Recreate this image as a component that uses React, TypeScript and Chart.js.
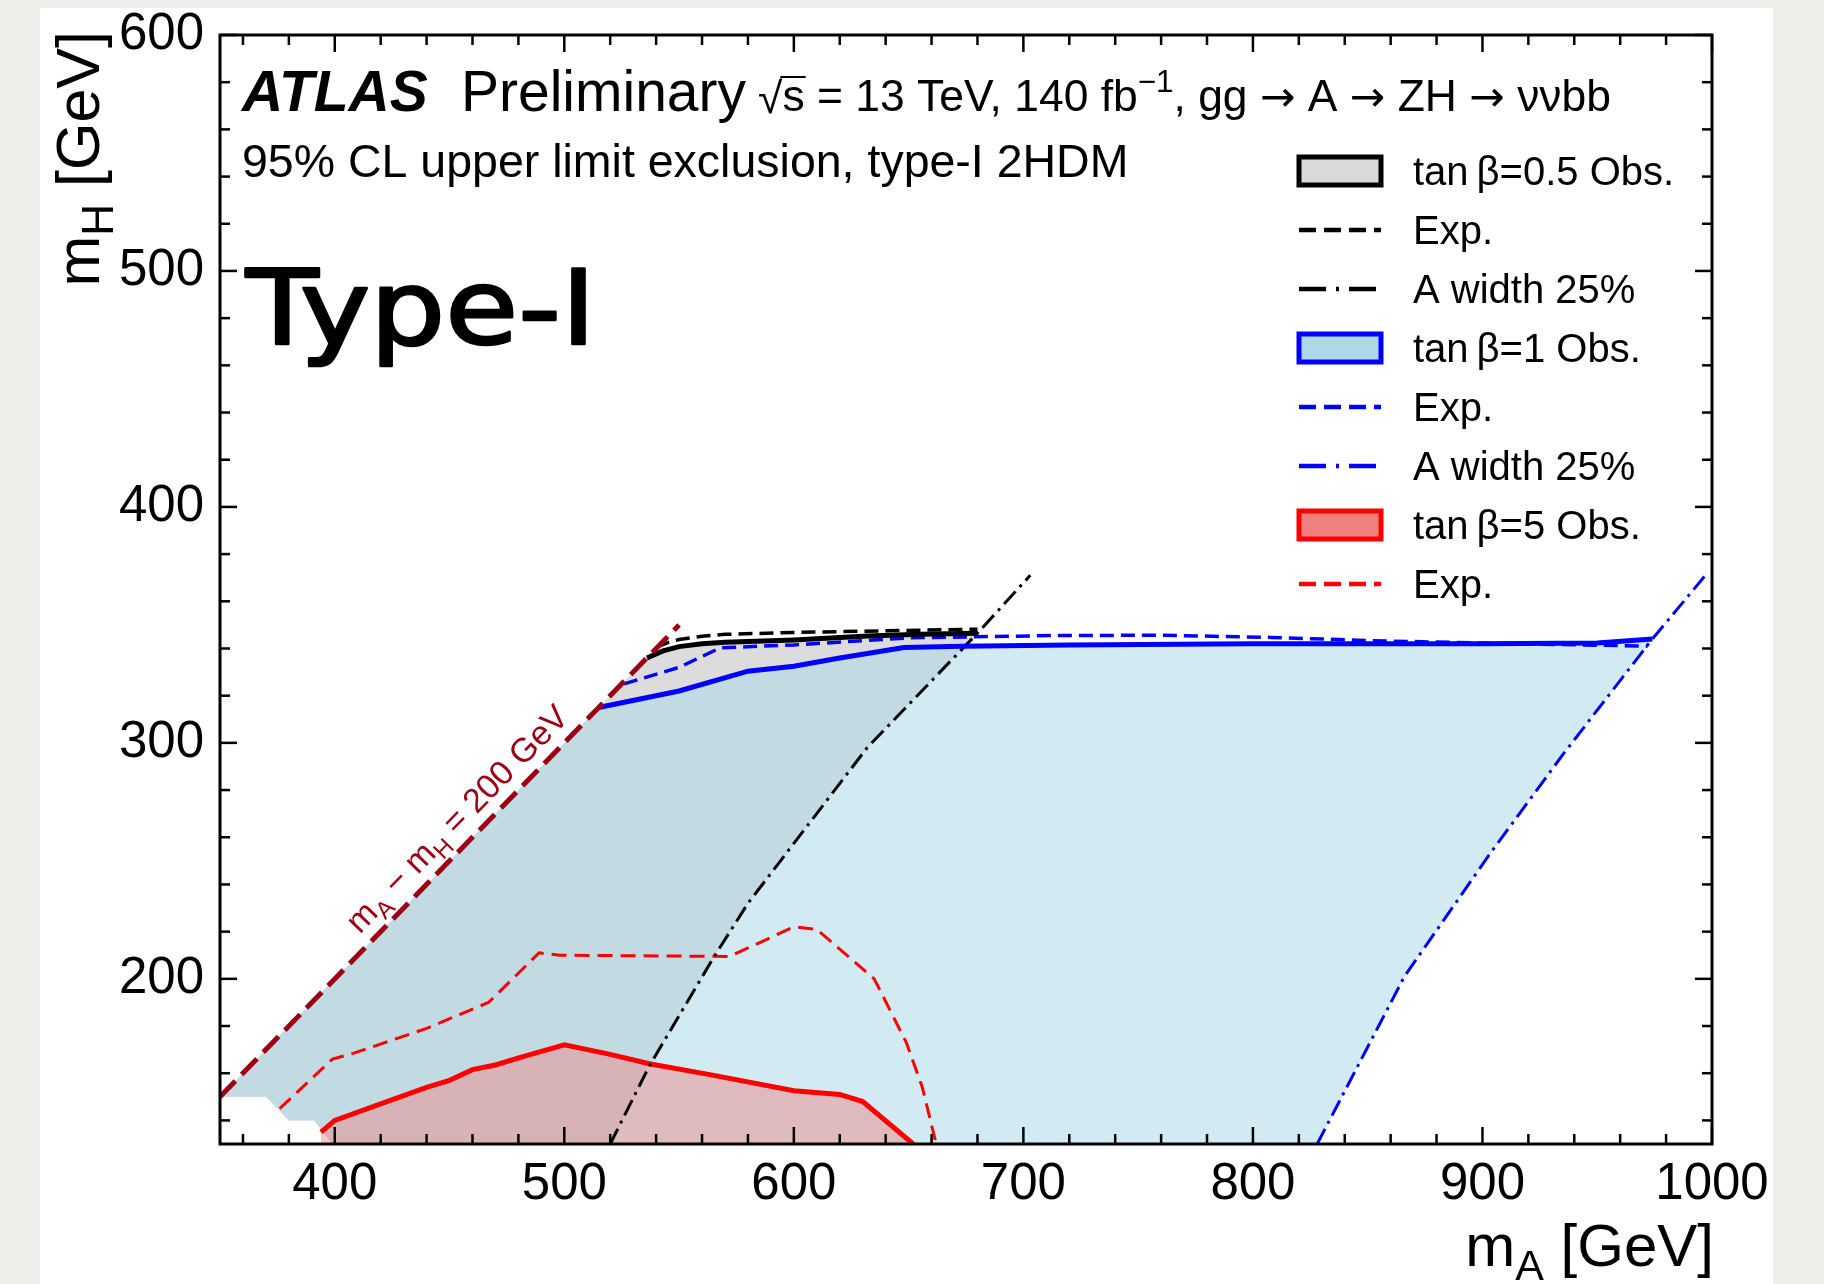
import React, { useEffect, useRef } from 'react';
import { Chart, registerables } from 'chart.js';

Chart.register(...registerables);

const FONT = '"Liberation Sans", Arial, Helvetica, sans-serif';
const SYMFONT = '"DejaVu Sans", "Liberation Sans", sans-serif';

// ---------------- axis definition ----------------
const xRange = [350, 1000];
const yRange = [130, 600];
const xTickValues = [400, 500, 600, 700, 800, 900, 1000];
const yTickValues = [200, 300, 400, 500, 600];
const minorStep = 20;

// ---------------- data (mA, mH) in GeV ----------------
// kinematic line mA - mH = 200 GeV
const kinematicLine: number[][] = [[350, 150], [550, 350]];
// lower-left edge of the scanned grid (shared by the tanb=0.5 and tanb=1 regions)
const gridEdge: number[][] = [[399, 130], [391, 140], [380, 140], [370, 150], [350, 150]];

// tan(beta) = 0.5
const obs05: number[][] = [[536, 336], [543, 339], [550, 340.8], [560, 342], [570, 342.6], [600, 343.6], [632, 345.3], [655, 346], [680, 346.5]];
const exp05: number[][] = [[540, 340.5], [545, 342.5], [550, 343.8], [560, 345.2], [570, 346], [600, 346.8], [640, 347.5], [680, 348.2]];
const width05: number[][] = [[520, 130], [537, 163], [565, 209], [580, 232], [632, 298], [680, 346.5], [703, 371]];

// tan(beta) = 1
const obs1: number[][] = [[515, 315], [550, 322], [580, 330.4], [600, 332.5], [620, 336], [648, 340.4], [673, 341], [720, 341.5], [800, 342], [900, 342], [950, 342.3], [974, 344]];
const exp1: number[][] = [[526, 325], [550, 332], [568, 340.3], [600, 341.5], [650, 344.5], [715, 345.5], [760, 345.6], [808, 344.7], [852, 343.3], [900, 342.3], [972, 341]];
const width1: number[][] = [[828, 130], [866, 201], [904, 254], [935, 295], [974, 344], [998, 372]];

// tan(beta) = 5
const obs5: number[][] = [[394, 135], [400, 140], [420, 147], [440, 154], [450, 157], [460, 161.5], [470, 163.5], [482, 167], [500, 172], [520, 168], [537, 164], [564, 159.3], [600, 152.6], [620, 151], [630, 148], [652, 130]];
const exp5: number[][] = [[376, 145], [399, 166], [408, 168.4], [440, 179], [467, 190], [489, 211], [498, 210], [572, 209.5], [600, 222], [610, 221], [635, 200], [649, 173], [656, 154], [662, 130]];

// ---------------- legend ----------------
const legendLabels = ['tan\u2009β=0.5 Obs.', 'Exp.', 'A width 25%', 'tan\u2009β=1 Obs.', 'Exp.', 'A width 25%', 'tan\u2009β=5 Obs.', 'Exp.'];
const legendKinds = ['box', 'dash', 'dashdot', 'box', 'dash', 'dashdot', 'box', 'dash'];

// ---------------- styles ----------------
const BLACK = '#000000';
const BLUE = '#0000ff';
const RED = '#ff0000';
const DARKRED = 'rgb(155,0,20)';
const GREY_FILL = 'rgba(205,205,205,0.7)';
const BLUE_FILL = 'rgba(173,216,230,0.55)';
const RED_FILL = 'rgba(240,128,128,0.45)';
const legendLineColors = [BLACK, BLACK, BLACK, BLUE, BLUE, BLUE, RED, RED];
const legendFillColors = ['rgb(217,217,217)', '', '', 'rgb(173,216,230)', '', '', 'rgb(240,128,128)', ''];

const toXY = (arr: number[][]) => arr.map(([x, y]) => ({ x, y }));

function region(obs: number[][], width: number[][]) {
  const endY = obs[obs.length - 1][1];
  const side = width.filter((p) => p[1] < endY).slice().reverse();
  return [...obs, ...side, ...gridEdge];
}

type Seg = { t: string; size: number; dy?: number; style?: string; family?: string };

function setFont(ctx: CanvasRenderingContext2D, s: Seg) {
  ctx.font = `${s.style || ''} ${s.size}px ${s.family || FONT}`;
}
function segWidth(ctx: CanvasRenderingContext2D, segs: Seg[]) {
  let w = 0;
  for (const s of segs) {
    setFont(ctx, s);
    w += ctx.measureText(s.t).width;
  }
  return w;
}
function drawSegs(ctx: CanvasRenderingContext2D, segs: Seg[], x: number, y: number) {
  let cx = x;
  for (const s of segs) {
    setFont(ctx, s);
    ctx.fillText(s.t, cx, y + (s.dy || 0));
    cx += ctx.measureText(s.t).width;
  }
  return cx;
}

const decorPlugin = {
  id: 'decor',
  afterDraw(chart: any) {
    const { ctx, chartArea: a } = chart;
    const xs = chart.scales.x;
    const ys = chart.scales.y;
    ctx.save();
    ctx.setLineDash([]);
    ctx.strokeStyle = BLACK;
    ctx.fillStyle = BLACK;

    // frame
    ctx.lineWidth = 3;
    ctx.strokeRect(a.left, a.top, a.right - a.left, a.bottom - a.top);

    // ticks on all four sides
    ctx.lineWidth = 2.5;
    const seg = (x1: number, y1: number, x2: number, y2: number) => {
      ctx.beginPath();
      ctx.moveTo(x1, y1);
      ctx.lineTo(x2, y2);
      ctx.stroke();
    };
    for (let v = Math.ceil(xRange[0] / minorStep) * minorStep; v <= xRange[1]; v += minorStep) {
      const L = xTickValues.includes(v) ? 17 : 10;
      const px = xs.getPixelForValue(v);
      seg(px, a.bottom, px, a.bottom - L);
      seg(px, a.top, px, a.top + L);
    }
    for (let v = Math.ceil(yRange[0] / minorStep) * minorStep; v <= yRange[1]; v += minorStep) {
      const L = yTickValues.includes(v) ? 17 : 10;
      const py = ys.getPixelForValue(v);
      seg(a.left, py, a.left + L, py);
      seg(a.right, py, a.right - L, py);
    }

    // axis titles
    ctx.textAlign = 'left';
    ctx.textBaseline = 'alphabetic';
    const xTitle: Seg[] = [{ t: 'm', size: 60 }, { t: 'A', size: 43, dy: 14 }, { t: ' [GeV]', size: 60 }];
    drawSegs(ctx, xTitle, a.right + 2 - segWidth(ctx, xTitle), 1266);
    const yTitle: Seg[] = [{ t: 'm', size: 61 }, { t: 'H', size: 44, dy: 14 }, { t: ' [GeV]', size: 61 }];
    ctx.save();
    ctx.translate(99, a.top - 4 + segWidth(ctx, yTitle));
    ctx.rotate(-Math.PI / 2);
    drawSegs(ctx, yTitle, 0, 0);
    ctx.restore();

    // header
    drawSegs(ctx, [{ t: 'ATLAS', size: 57, style: 'italic bold' }], 242, 111);
    drawSegs(ctx, [{ t: 'Preliminary', size: 57 }], 461, 111);
    {
      const rest: Seg[] = [
        { t: ' = 13 TeV, 140 fb', size: 44 },
        { t: '−1', size: 31, dy: -19 },
        { t: ', gg ', size: 44 },
        { t: '→', size: 42, family: SYMFONT },
        { t: ' A ', size: 44 },
        { t: '→', size: 42, family: SYMFONT },
        { t: ' ZH ', size: 44 },
        { t: '→', size: 42, family: SYMFONT },
        { t: ' ννbb', size: 44 },
      ];
      ctx.font = `44px ${FONT}`;
      const rw = ctx.measureText('√').width;
      const sw = ctx.measureText('s').width;
      const natural = rw + sw + segWidth(ctx, rest);
      const k = 853 / natural;
      ctx.save();
      ctx.translate(758, 111);
      ctx.scale(k, 1);
      ctx.font = `44px ${FONT}`;
      ctx.fillText('√', 0, 2);
      ctx.fillText('s', rw, 0);
      ctx.lineWidth = 2;
      seg(rw - 2, -34, rw + sw + 1, -34);
      drawSegs(ctx, rest, rw + sw, 0);
      ctx.restore();
    }
    drawSegs(ctx, [{ t: '95% CL upper limit exclusion, type-I 2HDM', size: 46.5 }], 242, 177);

    // hand-written style tag
    ctx.save();
    ctx.font = `100px "DejaVu Sans", ${FONT}`;
    const tw = ctx.measureText('Type-I').width;
    ctx.translate(246, 344);
    ctx.scale(350 / tw, 1.03);
    ctx.lineWidth = 2.5;
    ctx.lineJoin = 'round';
    ctx.fillText('Type-I', 0, 0);
    ctx.strokeText('Type-I', 0, 0);
    ctx.restore();

    // kinematic-line label
    const p0x = xs.getPixelForValue(kinematicLine[0][0]);
    const p0y = ys.getPixelForValue(kinematicLine[0][1]);
    const p1x = xs.getPixelForValue(kinematicLine[1][0]);
    const p1y = ys.getPixelForValue(kinematicLine[1][1]);
    const ang = Math.atan2(p1y - p0y, p1x - p0x);
    const diagLabel: Seg[] = [
      { t: 'm', size: 34 }, { t: 'A', size: 24, dy: 8 }, { t: ' − m', size: 34 }, { t: 'H', size: 24, dy: 8 }, { t: ' = 200 GeV', size: 34 },
    ];
    ctx.save();
    ctx.fillStyle = DARKRED;
    ctx.translate(xs.getPixelForValue(453), ys.getPixelForValue(268));
    ctx.rotate(ang);
    drawSegs(ctx, diagLabel, -segWidth(ctx, diagLabel) / 2, 12);
    ctx.restore();

    // legend
    const rowY0 = 171;
    const rowStep = 59;
    const lx0 = 1299;
    const lx1 = 1381;
    legendLabels.forEach((label, i) => {
      const cy = rowY0 + i * rowStep;
      const col = legendLineColors[i];
      const kind = legendKinds[i];
      ctx.save();
      ctx.strokeStyle = col;
      if (kind === 'box') {
        ctx.fillStyle = legendFillColors[i];
        ctx.fillRect(lx0, cy - 14, lx1 - lx0, 28);
        ctx.lineWidth = 5;
        ctx.setLineDash([]);
        ctx.strokeRect(lx0, cy - 14, lx1 - lx0, 28);
      } else if (kind === 'dash') {
        ctx.lineWidth = 4.5;
        ctx.setLineDash([17, 8]);
        seg(lx0, cy, lx1, cy);
      } else {
        ctx.lineWidth = 4.5;
        ctx.setLineDash([27, 10, 3, 10]);
        seg(lx0, cy, lx1, cy);
      }
      ctx.restore();
      ctx.fillStyle = BLACK;
      drawSegs(ctx, [{ t: label, size: 40 }], 1413, cy + 14);
    });

    ctx.restore();
  },
};

export default function App() {
  const ref = useRef<HTMLCanvasElement>(null);

  useEffect(() => {
    if (!ref.current) return;
    const line = (data: number[][], color: string, width: number, dash: number[], order: number) => ({
      data: toXY(data),
      borderColor: color,
      borderWidth: width,
      borderDash: dash,
      backgroundColor: color,
      fill: false,
      pointRadius: 0,
      tension: 0,
      order,
    });
    const area = (data: number[][], color: string, fill: any, order: number) => ({
      data: toXY(data),
      borderColor: 'rgba(0,0,0,0)',
      borderWidth: 0,
      backgroundColor: color,
      fill,
      pointRadius: 0,
      tension: 0,
      order,
    });

    const chart = new Chart(ref.current, {
      type: 'line',
      data: {
        datasets: [
          line(kinematicLine, DARKRED, 5, [22, 9], 1),
          line(obs05, BLACK, 5, [], 2),
          line(exp05, BLACK, 3.5, [14, 7], 3),
          line(exp1, BLUE, 3.5, [14, 7], 4),
          line(obs1, BLUE, 5, [], 5),
          line(width05, BLACK, 3, [17, 6, 3, 6], 6),
          line(width1, BLUE, 3, [17, 6, 3, 6], 6),
          line(obs5, RED, 5, [], 7),
          line(exp5, RED, 3, [15, 8], 7),
          area(obs5, RED_FILL, 'start', 20),
          area(region(obs1, width1), BLUE_FILL, 'shape', 21),
          area(region(obs05, width05), GREY_FILL, 'shape', 22),
        ] as any,
      },
      options: {
        responsive: false,
        devicePixelRatio: 1,
        animation: false,
        events: [],
        layout: { padding: { left: 100, top: 35, right: 112, bottom: 0 } },
        plugins: { legend: { display: false }, tooltip: { enabled: false } },
        scales: {
          x: {
            type: 'linear',
            min: xRange[0],
            max: xRange[1],
            afterBuildTicks: (s: any) => {
              s.ticks = xTickValues.map((v) => ({ value: v }));
            },
            afterFit: (s: any) => {
              s.height = 140;
              s.paddingLeft = 0;
              s.paddingRight = 0;
            },
            grid: { display: false, drawTicks: false },
            border: { display: false },
            ticks: {
              autoSkip: false,
              maxRotation: 0,
              minRotation: 0,
              padding: 10,
              color: BLACK,
              font: { family: FONT, size: 51 },
              callback: (v: any) => String(v),
            },
          },
          y: {
            type: 'linear',
            min: yRange[0],
            max: yRange[1],
            afterBuildTicks: (s: any) => {
              s.ticks = yTickValues.map((v) => ({ value: v }));
            },
            afterFit: (s: any) => {
              s.width = 120;
              s.paddingTop = 0;
              s.paddingBottom = 0;
            },
            grid: { display: false, drawTicks: false },
            border: { display: false },
            ticks: {
              autoSkip: false,
              padding: 16,
              color: BLACK,
              font: { family: FONT, size: 51 },
              callback: (v: any) => String(v),
            },
          },
        },
      } as any,
      plugins: [decorPlugin],
    });
    return () => chart.destroy();
  }, []);

  return (
    <div style={{ position: 'fixed', left: 0, top: 0, width: 1824, height: 1284, background: '#efeeeb', overflow: 'hidden' }}>
      <div style={{ position: 'absolute', left: 40, top: 8, width: 1733, height: 1276, background: '#ffffff' }} />
      <canvas ref={ref} width={1824} height={1284} style={{ position: 'absolute', left: 0, top: 0, width: 1824, height: 1284 }} />
    </div>
  );
}
